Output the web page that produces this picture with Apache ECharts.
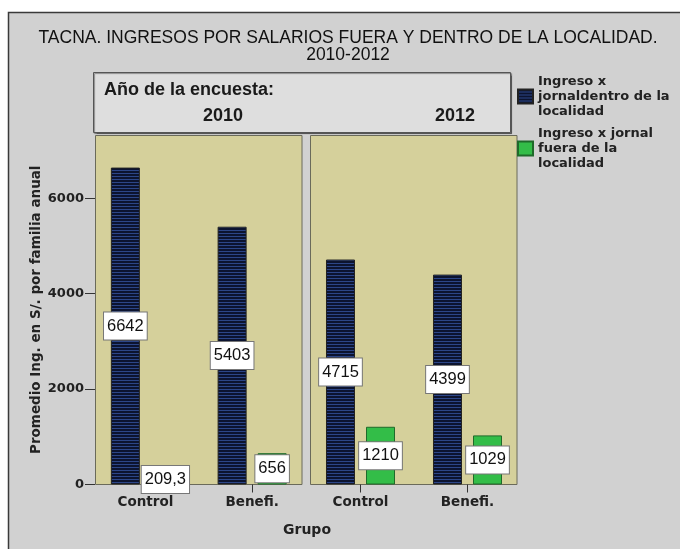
<!DOCTYPE html>
<html>
<head>
<meta charset="utf-8">
<script src="https://cdn.jsdelivr.net/npm/echarts@6/dist/echarts.min.js"></script>
<style>
html,body{margin:0;padding:0;background:#ffffff;}
#chart{width:680px;height:549px;}
</style>
</head>
<body>
<div id="chart"></div>
<script>
// ---- data ----
const categories = ['Control', 'Benefi.'];
const years = ['2010', '2012'];
const seriesNames = ['Ingreso x jornaldentro de la localidad', 'Ingreso x jornal fuera de la localidad'];
const legendLabels = ['Ingreso x\njornaldentro de la\nlocalidad', 'Ingreso x jornal\nfuera de la\nlocalidad'];
const dentro2010 = [6642, 5403];
const fuera2010 = [209.3, 656];
const dentro2012 = [4715, 4399];
const fuera2012 = [1210, 1029];
const yTicks = [0, 2000, 4000, 6000];
const yMax = 7325;
const titleText = 'TACNA. INGRESOS POR SALARIOS FUERA Y DENTRO DE LA LOCALIDAD.\n2010-2012';
const headerText = 'Año de la encuesta:';
const yName = 'Promedio Ing. en S/. por familia anual';
const xName = 'Grupo';

// ---- styles ----
const stripe = document.createElement('canvas');
stripe.width = 4; stripe.height = 3;
const sg = stripe.getContext('2d');
sg.fillStyle = '#0c1430'; sg.fillRect(0, 0, 4, 3);
sg.fillStyle = '#2c4688'; sg.fillRect(0, 2, 4, 1);
const navyFill = { image: stripe, repeat: 'repeat' };
const greenFill = '#33bd48';

const fmt = p => Number.isInteger(p.value) ? String(p.value) : String(p.value).replace('.', ',');
const labelStyle = {
  show: true, position: 'inside', formatter: fmt,
  fontFamily: 'Liberation Sans', fontSize: 16.5, color: '#111',
  backgroundColor: '#ffffff', borderColor: '#777', borderWidth: 1,
  padding: [5, 3, 5, 3], lineHeight: 17
};
const sansBold = { fontFamily: 'DejaVu Sans', fontWeight: 'bold', color: '#222' };

function mkSeries(name, data, idx, fill, border) {
  return {
    type: 'bar', name: name, data: data, xAxisIndex: idx, yAxisIndex: idx,
    barWidth: 29, barGap: '38%',
    itemStyle: { color: fill, borderColor: border, borderWidth: 1 },
    label: labelStyle
  };
}

const grids = [
  { left: 92, top: 135, width: 213.5, height: 349.5 },
  { left: 307, top: 135, width: 214, height: 349.5 }
];

const xAxes = grids.map((g, i) => ({
  type: 'category', gridIndex: i, data: categories,
  axisLine: { show: false },
  axisTick: { show: true, alignWithLabel: true, length: 8, lineStyle: { color: '#333' } },
  axisLabel: Object.assign({ fontSize: 13.5, margin: 11 }, sansBold)
}));

const yAxes = grids.map((g, i) => ({
  type: 'value', gridIndex: i, min: 0, max: yMax, interval: 2000,
  offset: i === 0 ? -3 : 0,
  show: i === 0,
  splitLine: { show: false },
  axisLine: { show: false },
  axisTick: { show: true, length: 10, customValues: yTicks, lineStyle: { color: '#333' } },
  axisLabel: Object.assign({ fontSize: 13, margin: 11, customValues: yTicks, formatter: v => String(v) }, sansBold),
  name: i === 0 ? yName : '',
  nameLocation: 'middle', nameRotate: 90, nameGap: 52,
  nameTextStyle: Object.assign({ fontSize: 13.5 }, sansBold)
}));

const panels = [[95.5, 135.5, 206.5, 349], [310.5, 135.5, 206.5, 349]];

const option = {
  backgroundColor: 'transparent',
  animation: false,
  title: {
    text: titleText, left: 348, top: 30, padding: 0, textAlign: 'center',
    textStyle: { fontFamily: 'Liberation Sans', fontSize: 17.5, fontWeight: 'normal', color: '#111', lineHeight: 17 }
  },
  legend: {
    data: seriesNames, orient: 'vertical', left: 517, top: 74, padding: 0,
    itemWidth: 15, itemHeight: 14, itemGap: 7, icon: 'rect',
    formatter: n => legendLabels[seriesNames.indexOf(n)],
    textStyle: Object.assign({ fontSize: 13, lineHeight: 15 }, sansBold),
    selectedMode: false
  },
  grid: grids,
  xAxis: xAxes,
  yAxis: yAxes,
  graphic: [
    { type: 'rect', z: -3, shape: { x: 8.5, y: 12.5, width: 700, height: 560 },
      style: { fill: '#d1d1d1', stroke: '#3a3a3a', lineWidth: 1.5 } },
    ...panels.map(p => ({ type: 'rect', z: -2, shape: { x: p[0], y: p[1], width: p[2], height: p[3] },
      style: { fill: '#d5d09b', stroke: '#6a6a5a', lineWidth: 1 } })),
    { type: 'rect', z: -2, shape: { x: 93.5, y: 72.5, width: 417, height: 60 },
      style: { fill: '#dedede', stroke: '#555', lineWidth: 1, shadowBlur: 1, shadowOffsetX: 1, shadowOffsetY: 1, shadowColor: 'rgba(0,0,0,0.4)' } },
    { type: 'text', z: 1, x: 104, y: 90,
      style: { text: headerText, fontFamily: 'Liberation Sans', fontWeight: 'bold', fontSize: 18, fill: '#1a1a1a', verticalAlign: 'middle', align: 'left' } },
    { type: 'text', z: 1, x: 223, y: 116,
      style: { text: years[0], fontFamily: 'Liberation Sans', fontWeight: 'bold', fontSize: 18, fill: '#1a1a1a', verticalAlign: 'middle', align: 'center' } },
    { type: 'text', z: 1, x: 455, y: 116,
      style: { text: years[1], fontFamily: 'Liberation Sans', fontWeight: 'bold', fontSize: 18, fill: '#1a1a1a', verticalAlign: 'middle', align: 'center' } },
    { type: 'text', z: 1, x: 307, y: 530.5,
      style: { text: xName, fontFamily: 'DejaVu Sans', fontWeight: 'bold', fontSize: 14, fill: '#222', verticalAlign: 'middle', align: 'center' } }
  ],
  series: [
    mkSeries(seriesNames[0], dentro2010, 0, navyFill, '#222'),
    mkSeries(seriesNames[1], fuera2010, 0, greenFill, '#1f6a2a'),
    mkSeries(seriesNames[0], dentro2012, 1, navyFill, '#222'),
    mkSeries(seriesNames[1], fuera2012, 1, greenFill, '#1f6a2a')
  ]
};

const chart = echarts.init(document.getElementById('chart'), null, { renderer: 'canvas' });
chart.setOption(option);
</script>
</body>
</html>
